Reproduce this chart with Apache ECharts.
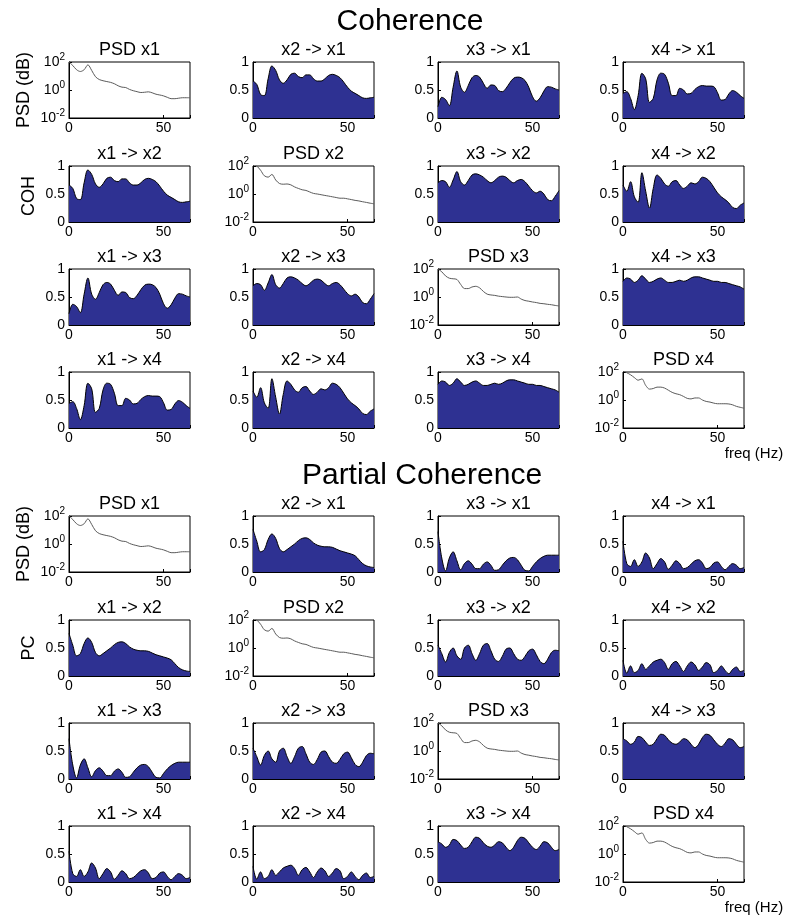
<!DOCTYPE html>
<html>
<head>
<meta charset="utf-8">
<script src="https://cdn.jsdelivr.net/npm/echarts@6/dist/echarts.min.js"></script>
<style>
html, body { margin: 0; padding: 0; background: #fff; }
#chart { width: 788px; height: 921px; }
</style>
</head>
<body>
<div id="chart"></div>
<script>
// frequency grid (Hz)
const freq = [0, 2, 4, 6, 8, 10, 12, 14, 16, 18, 20, 22, 24, 26, 28, 30, 32,
  34, 36, 38, 40, 42, 44, 46, 48, 50, 52, 54, 56, 58, 60, 62, 64];

// power spectra (same in both sections)
const psdX1 = [100, 56, 28, 21, 28, 63, 25, 8.9, 5.6, 4.6, 4.0, 3.5, 2.8, 2.0, 1.6, 1.5, 1.1,
  0.89, 0.76, 0.66, 0.69, 0.74, 0.63, 0.50, 0.44, 0.38, 0.30, 0.24, 0.24, 0.26, 0.28, 0.28, 0.28];
const psdX2 = [160, 100, 50, 20, 16, 25, 10, 5.6, 5.0, 5.2, 4.5, 3.2, 2.5, 2.0, 1.8, 1.4, 1.1,
  1.0, 0.89, 0.79, 0.71, 0.63, 0.56, 0.50, 0.50, 0.45, 0.40, 0.35, 0.32, 0.28, 0.25, 0.22, 0.20];
const psdX3 = [100, 63, 32, 22, 20, 18, 7.9, 4.0, 4.0, 5.2, 5.8, 4.5, 2.5, 1.6, 1.4, 1.3, 1.15,
  1.07, 1.0, 0.95, 0.95, 1.0, 0.71, 0.56, 0.50, 0.44, 0.40, 0.35, 0.33, 0.30, 0.28, 0.25, 0.23];
const psdX4 = [126, 89, 63, 40, 26, 32, 11, 6.0, 6.6, 8.3, 8.3, 7.1, 5.0, 3.5, 2.8, 2.4, 1.8,
  1.3, 1.2, 1.4, 1.4, 1.0, 0.79, 0.71, 0.60, 0.54, 0.54, 0.54, 0.52, 0.45, 0.35, 0.30, 0.26];

// coherence (symmetric pairs)
const coh12 = [0.66, 0.60, 0.42, 0.40, 0.70, 0.93, 0.85, 0.68, 0.62, 0.68, 0.78, 0.80, 0.74, 0.72, 0.77, 0.77, 0.70,
  0.66, 0.66, 0.70, 0.76, 0.78, 0.76, 0.72, 0.64, 0.55, 0.48, 0.44, 0.40, 0.36, 0.35, 0.36, 0.37];
const coh13 = [0.20, 0.37, 0.33, 0.22, 0.55, 0.84, 0.55, 0.46, 0.58, 0.72, 0.76, 0.73, 0.62, 0.53, 0.59, 0.58, 0.49,
  0.47, 0.53, 0.63, 0.71, 0.73, 0.72, 0.67, 0.55, 0.38, 0.30, 0.36, 0.48, 0.56, 0.55, 0.52, 0.50];
const coh14 = [0.44, 0.47, 0.35, 0.15, 0.40, 0.80, 0.70, 0.28, 0.35, 0.68, 0.80, 0.78, 0.62, 0.40, 0.40, 0.53, 0.50,
  0.43, 0.44, 0.51, 0.56, 0.58, 0.57, 0.57, 0.56, 0.45, 0.32, 0.33, 0.43, 0.49, 0.46, 0.40, 0.35];
const coh23 = [0.70, 0.74, 0.72, 0.62, 0.75, 0.90, 0.72, 0.66, 0.74, 0.84, 0.86, 0.84, 0.80, 0.74, 0.70, 0.74, 0.80,
  0.82, 0.80, 0.74, 0.70, 0.74, 0.76, 0.72, 0.64, 0.56, 0.52, 0.55, 0.50, 0.40, 0.38, 0.46, 0.56];
const coh24 = [0.66, 0.55, 0.72, 0.45, 0.35, 0.88, 0.55, 0.25, 0.60, 0.84, 0.78, 0.68, 0.64, 0.72, 0.74, 0.66, 0.60,
  0.64, 0.70, 0.68, 0.72, 0.80, 0.78, 0.72, 0.62, 0.52, 0.45, 0.40, 0.34, 0.26, 0.24, 0.30, 0.34];
const coh34 = [0.78, 0.84, 0.82, 0.76, 0.80, 0.88, 0.82, 0.76, 0.78, 0.82, 0.84, 0.80, 0.76, 0.76, 0.78, 0.80, 0.78,
  0.80, 0.84, 0.86, 0.86, 0.84, 0.82, 0.80, 0.78, 0.78, 0.76, 0.76, 0.74, 0.72, 0.70, 0.68, 0.64];

// partial coherence (symmetric pairs)
const pc12 = [0.76, 0.55, 0.36, 0.40, 0.58, 0.68, 0.60, 0.42, 0.36, 0.40, 0.45, 0.50, 0.56, 0.60, 0.61, 0.58, 0.52,
  0.48, 0.46, 0.45, 0.45, 0.44, 0.41, 0.38, 0.36, 0.34, 0.32, 0.29, 0.22, 0.15, 0.11, 0.09, 0.08];
const pc13 = [0.72, 0.25, 0.02, 0.25, 0.36, 0.20, 0.04, 0.15, 0.20, 0.14, 0.06, 0.06, 0.14, 0.18, 0.12, 0.03, 0.04,
  0.12, 0.20, 0.25, 0.26, 0.22, 0.12, 0.03, 0.02, 0.10, 0.18, 0.24, 0.28, 0.30, 0.30, 0.30, 0.30];
const pc14 = [0.55, 0.15, 0.10, 0.22, 0.10, 0.18, 0.34, 0.25, 0.06, 0.15, 0.24, 0.18, 0.05, 0.12, 0.20, 0.15, 0.06,
  0.08, 0.14, 0.20, 0.22, 0.16, 0.06, 0.08, 0.16, 0.18, 0.10, 0.04, 0.10, 0.15, 0.12, 0.06, 0.08];
const pc23 = [0.55, 0.40, 0.25, 0.42, 0.50, 0.36, 0.30, 0.50, 0.55, 0.40, 0.28, 0.40, 0.55, 0.58, 0.45, 0.30, 0.26,
  0.35, 0.48, 0.50, 0.40, 0.30, 0.28, 0.35, 0.45, 0.48, 0.38, 0.26, 0.22, 0.30, 0.42, 0.46, 0.45];
const pc24 = [0.28, 0.05, 0.18, 0.06, 0.10, 0.22, 0.12, 0.18, 0.25, 0.28, 0.30, 0.24, 0.12, 0.22, 0.26, 0.18, 0.08,
  0.18, 0.25, 0.20, 0.10, 0.16, 0.24, 0.20, 0.06, 0.10, 0.18, 0.10, 0.04, 0.12, 0.16, 0.08, 0.10];
const pc34 = [0.72, 0.68, 0.62, 0.66, 0.76, 0.74, 0.66, 0.60, 0.62, 0.72, 0.80, 0.78, 0.70, 0.64, 0.62, 0.66, 0.72,
  0.70, 0.62, 0.56, 0.62, 0.74, 0.80, 0.78, 0.70, 0.62, 0.58, 0.64, 0.72, 0.70, 0.62, 0.56, 0.58];

const xTickLabels = [0, 50];

const psdList = [psdX1, psdX2, psdX3, psdX4];
const cohMap = { '12': coh12, '13': coh13, '14': coh14, '23': coh23, '24': coh24, '34': coh34 };
const pcMap = { '12': pc12, '13': pc13, '14': pc14, '23': pc23, '24': pc24, '34': pc34 };

const font = "'Liberation Sans', Arial, Helvetica, sans-serif";
const colLeft = [69, 253, 438, 623];
const colW = 121;
const rowH = 56;
const sections = [
  { name: 'Coherence', titleX: 410, titleY: 22, tops: [62, 166, 269, 372], map: cohMap, yName: 'COH', yNameCy: 196, psdNameCy: 90, freqY: 454 },
  { name: 'Partial Coherence', titleX: 422, titleY: 476, tops: [516, 620, 723, 826], map: pcMap, yName: 'PC', yNameCy: 648, psdNameCy: 544, freqY: 908 }
];

const chart = echarts.init(document.getElementById('chart'));
const grids = [], xAxes = [], yAxes = [], series = [], graphics = [];

const tickLabel = { color: '#000', fontSize: 14, fontFamily: font };
const axisLine = { show: true, lineStyle: { color: '#000', width: 1 } };
const axisTick = { show: true, inside: true, length: 3, lineStyle: { color: '#000', width: 1 } };

sections.forEach(sec => {
  graphics.push({
    type: 'text', x: sec.titleX, y: sec.titleY,
    style: { text: sec.name, font: `30px ${font}`, fill: '#000', align: 'center', verticalAlign: 'middle', textAlign: 'center', textVerticalAlign: 'middle' }
  });
  for (let r = 0; r < 4; r++) {
    for (let c = 0; c < 4; c++) {
      const idx = grids.length;
      const left = colLeft[c], top = sec.tops[r];
      grids.push({ left, top, width: colW, height: rowH, show: true, borderColor: '#000', borderWidth: 1 });
      xAxes.push({
        gridIndex: idx, type: 'value', min: 0, max: 64, interval: 50,
        axisLine, axisTick, splitLine: { show: false },
        axisLabel: Object.assign({ margin: 3, formatter: v => xTickLabels.includes(v) ? String(v) : '' }, tickLabel)
      });
      const isPsd = r === c;
      let title;
      if (isPsd) {
        title = 'PSD x' + (r + 1);
        yAxes.push({
          gridIndex: idx, type: 'log', logBase: 10, min: 0.01, max: 100, interval: 2,
          axisLine, axisTick, splitLine: { show: false }, minorTick: { show: false },
          axisLabel: {
            margin: 4, color: '#000',
            formatter: v => '{b|10}{s|' + Math.round(Math.log10(v)) + '}',
            rich: {
              b: { fontSize: 14, fontFamily: font, color: '#000', lineHeight: 20 },
              s: { fontSize: 10, fontFamily: font, color: '#000', lineHeight: 9, verticalAlign: 'top' }
            }
          }
        });
        series.push({
          type: 'line', xAxisIndex: idx, yAxisIndex: idx,
          data: freq.map((f, i) => [f, psdList[r][i]]),
          showSymbol: false, smooth: 0.3, clip: true, silent: true,
          lineStyle: { color: '#5a5a5a', width: 1 }
        });
      } else {
        title = 'x' + (c + 1) + ' -> x' + (r + 1);
        const key = '' + (Math.min(r, c) + 1) + (Math.max(r, c) + 1);
        yAxes.push({
          gridIndex: idx, type: 'value', min: 0, max: 1, interval: 0.5,
          axisLine, axisTick, splitLine: { show: false },
          axisLabel: Object.assign({ margin: 4 }, tickLabel)
        });
        series.push({
          type: 'line', xAxisIndex: idx, yAxisIndex: idx,
          data: freq.map((f, i) => [f, sec.map[key][i]]),
          showSymbol: false, smooth: 0.35, clip: true, silent: true,
          lineStyle: { color: '#000', width: 1 },
          areaStyle: { color: '#2E3192', opacity: 1 }
        });
      }
      graphics.push({
        type: 'text', x: left + colW / 2, y: top - 12,
        style: { text: title, font: `18px ${font}`, fill: '#000', align: 'center', verticalAlign: 'middle', textAlign: 'center', textVerticalAlign: 'middle' }
      });
    }
  }
  // y labels on the left column
  graphics.push({
    type: 'text', x: 24, y: sec.psdNameCy, rotation: Math.PI / 2,
    style: { text: 'PSD (dB)', font: `18px ${font}`, fill: '#000', align: 'center', verticalAlign: 'middle', textAlign: 'center', textVerticalAlign: 'middle' }
  });
  graphics.push({
    type: 'text', x: 29, y: sec.yNameCy, rotation: Math.PI / 2,
    style: { text: sec.yName, font: `18px ${font}`, fill: '#000', align: 'center', verticalAlign: 'middle', textAlign: 'center', textVerticalAlign: 'middle' }
  });
  graphics.push({
    type: 'text', x: 754, y: sec.freqY,
    style: { text: 'freq (Hz)', font: `15px ${font}`, fill: '#000', align: 'center', verticalAlign: 'middle', textAlign: 'center', textVerticalAlign: 'middle' }
  });
});

chart.setOption({
  animation: false,
  backgroundColor: '#fff',
  grid: grids,
  xAxis: xAxes,
  yAxis: yAxes,
  series: series,
  graphic: graphics
});
</script>
</body>
</html>
